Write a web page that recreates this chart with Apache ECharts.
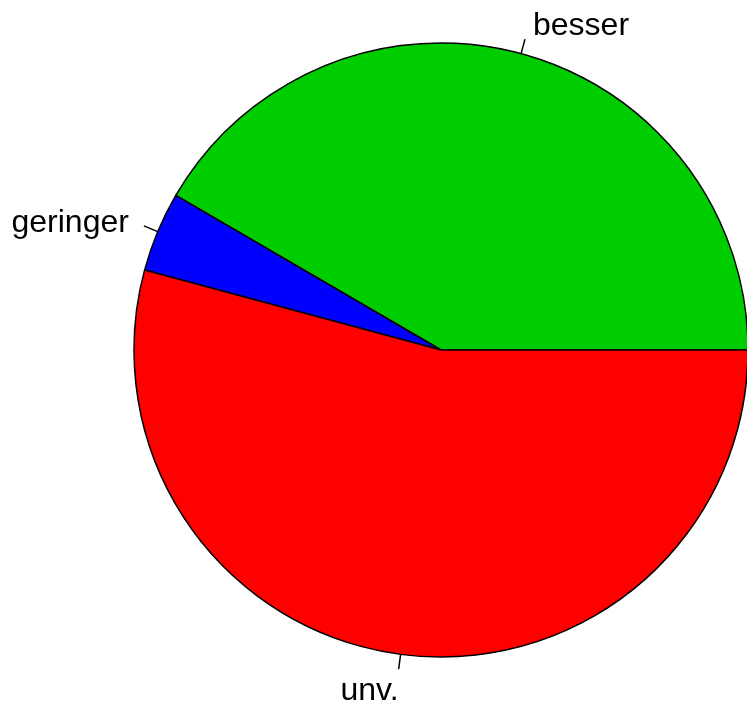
<!DOCTYPE html>
<html>
<head>
<meta charset="utf-8">
<style>
  html, body { margin: 0; padding: 0; background: #fff; }
  #chart { width: 747px; height: 702px; }
</style>
<script src="https://cdn.jsdelivr.net/npm/echarts@6/dist/echarts.min.js"></script>
</head>
<body>
<div id="chart"></div>
<script>
// slice names and shares (percent), in R's counter-clockwise order from 3 o'clock
const categories = ['besser', 'geringer', 'unv.']
const values = [41.6, 4.2, 54.2]
const colors = ['#00cd00', '#0000ff', '#ff0000']
// nudge of each label [dx, dy] so the text sits where R's pie() puts it
const labelShift = [[0, -13], [-7, -3], [8, 22]]

const chart = echarts.init(document.getElementById('chart'))

chart.setOption({
  animation: false,
  series: [
    {
      type: 'pie',
      center: [441, 350],
      radius: 307,
      startAngle: 0,
      clockwise: false,
      avoidLabelOverlap: false,
      itemStyle: {
        borderColor: '#000',
        borderWidth: 1.5
      },
      label: {
        show: true,
        position: 'outside',
        color: '#000',
        fontFamily: 'Liberation Sans, Arial, sans-serif',
        fontSize: 32,
        distanceToLabelLine: 8
      },
      labelLine: {
        show: true,
        length: 15,
        length2: 0,
        lineStyle: { color: '#000', width: 1.5 }
      },
      labelLayout: (params) => ({
        dx: labelShift[params.dataIndex][0],
        dy: labelShift[params.dataIndex][1]
      }),
      emphasis: { disabled: true },
      data: categories.map((name, i) => ({
        name,
        value: values[i],
        itemStyle: { color: colors[i] }
      }))
    }
  ]
})
</script>
</body>
</html>
